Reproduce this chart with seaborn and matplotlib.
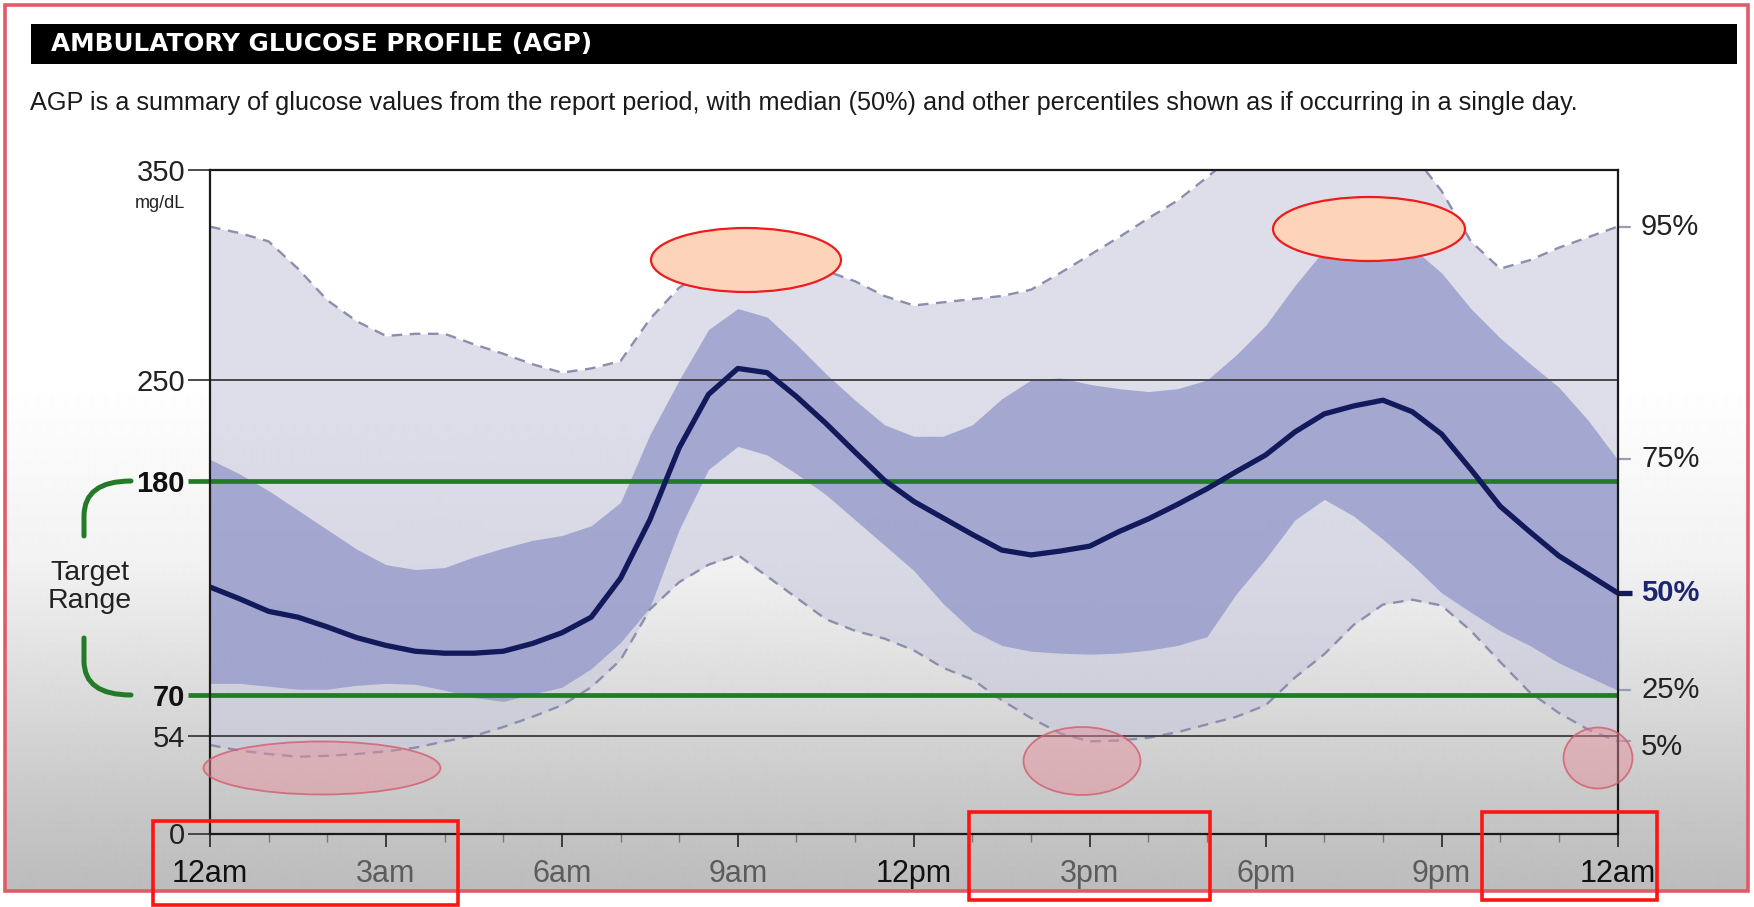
import numpy as np
import matplotlib
matplotlib.use("Agg")
import matplotlib.pyplot as plt
import seaborn as sns
from matplotlib.patches import Ellipse, Rectangle, PathPatch
from matplotlib.path import Path

# ---- glucose percentiles (mg/dL) across one day, every 30 minutes ----
hours = np.arange(0, 24.5, 0.5)
p95 = [323, 320, 316, 303, 288, 278, 271, 272, 272, 267, 262.5, 257.5, 253.5, 255.5, 259, 279,
       294, 302, 305, 305, 304, 302, 297, 290, 285.5, 287, 288.5, 290, 293, 301, 309.5, 318,
       327, 335.5, 346.5, 358, 368, 375, 378, 376, 368, 358, 340, 316, 303, 307, 313, 318, 323]
p75 = [195, 185, 175, 165, 155, 145, 137, 134.5, 135.5, 141, 145.5, 149.5, 152, 157, 169, 212,
       250, 274, 284, 280, 267, 253, 236, 219, 211, 211, 219, 237, 250, 251, 247, 244,
       242, 244, 250, 262, 276, 295, 312, 318, 319, 313, 301, 284, 270, 258, 245, 222, 195]
p50 = [125.5, 119.5, 113, 110, 105, 99.5, 95.5, 92.5, 91.5, 91.5, 92.5, 96.5, 102, 110, 130, 160,
       203, 240, 255.5, 253.5, 238.5, 220, 200, 180.5, 169.5, 161, 152.5, 144.5, 142, 144, 146.5, 154,
       160.5, 168, 176, 186.5, 198, 214, 226.5, 232, 236, 228, 212.5, 188, 167, 154, 141.5, 132, 122.5]
p25 = [76, 76, 74.5, 73, 73, 75, 76, 75.5, 72.5, 69, 67.5, 70.5, 74, 83.5, 97, 115,
       155, 188, 204, 198, 185, 173, 160, 147, 134, 117, 103, 95.5, 92.5, 91.5, 91, 91.5,
       93, 95.5, 100, 122, 140, 160, 170.5, 162, 150, 137, 122.5, 112.5, 103, 95.5, 86.5, 79.5, 72.5]
p05 = [49, 46, 44, 42.5, 43, 44, 45.5, 47.5, 51, 54, 57.5, 61.5, 66, 74, 88, 114,
       128, 137, 142, 131, 120, 109, 103, 99, 93, 84, 78, 68, 61, 55, 51, 51.5,
       53, 55.5, 58.5, 61.5, 66, 79, 91, 106, 116.5, 119, 116, 103, 87, 71.5, 63, 56.5, 51]

x_ticks = [0, 3, 6, 9, 12, 15, 18, 21, 24]
x_labels = ["12am", "3am", "6am", "9am", "12pm", "3pm", "6pm", "9pm", "12am"]
y_ticks = [0, 54, 70, 180, 250, 350]
y_labels = ["0", "54", "70", "180", "250", "350"]
target_low, target_high = 70, 180

# vertical axis of the AGP report is stretched piecewise between its marks
SCALE_V = [0, 54, 70, 180, 250, 350]
SCALE_F = [0, 0.147, 0.2087, 0.5313, 0.6835, 1.0]


def y_forward(v):
    v = np.asarray(v, dtype=float)
    out = np.interp(v, SCALE_V, SCALE_F)
    top = (SCALE_F[-1] - SCALE_F[-2]) / (SCALE_V[-1] - SCALE_V[-2])
    bot = SCALE_F[1] / SCALE_V[1]
    out = np.where(v > SCALE_V[-1], SCALE_F[-1] + (v - SCALE_V[-1]) * top, out)
    out = np.where(v < SCALE_V[0], v * bot, out)
    return out


def y_inverse(f):
    f = np.asarray(f, dtype=float)
    out = np.interp(f, SCALE_F, SCALE_V)
    top = (SCALE_V[-1] - SCALE_V[-2]) / (SCALE_F[-1] - SCALE_F[-2])
    bot = SCALE_V[1] / SCALE_F[1]
    out = np.where(f > SCALE_F[-1], SCALE_V[-1] + (f - SCALE_F[-1]) * top, out)
    out = np.where(f < SCALE_F[0], f * bot, out)
    return out


W, H = 1754, 907
sns.set_theme(style="white")
plt.rcParams["font.family"] = ["Liberation Sans", "DejaVu Sans"]

fig = plt.figure(figsize=(W / 100, H / 100), dpi=100)
fig.patch.set_facecolor("white")


def fx(px):
    return px / W


def fy(py):
    return 1 - py / H


# ---- report panel: shaded backdrop and red outline ----
pl, pr, pt, pb = 5, 1748, 5, 891
bg = fig.add_axes([fx(pl), fy(pb), fx(pr) - fx(pl), fy(pt) - fy(pb)], zorder=-5)
rows = np.arange(pt, pb)
shade = np.interp(rows, [0, 380, 560, 700, 800, 891], [255, 255, 242, 218, 200, 188]) / 255
bg.imshow(shade[:, None] * np.ones((1, 4)), cmap="gray", vmin=0, vmax=1,
          aspect="auto", extent=[0, 1, 0, 1], interpolation="bilinear")
bg.axis("off")
fig.add_artist(Rectangle((fx(pl), fy(pb)), fx(pr) - fx(pl), fy(pt) - fy(pb),
                         transform=fig.transFigure, fill=False, ec="#e25a68", lw=2.6, zorder=30))

# ---- header ----
fig.add_artist(Rectangle((fx(31), fy(64)), fx(1737) - fx(31), fy(24) - fy(64),
                         transform=fig.transFigure, fc="black", ec="none", zorder=1))
fig.text(fx(51), fy(44.5), "AMBULATORY GLUCOSE PROFILE (AGP)", color="white",
         fontsize=17.8, fontweight="bold", family=["DejaVu Sans"], va="center", ha="left", zorder=2)
fig.text(fx(30), fy(103), "AGP is a summary of glucose values from the report period, with median (50%) "
         "and other percentiles shown as if occurring in a single day.",
         color="#1a1a1a", fontsize=18.2, va="center", ha="left")

# ---- main chart ----
ax = fig.add_axes([fx(210), fy(833.5), fx(1617.5) - fx(210), fy(170) - fy(833.5)])
ax.set_facecolor("none")

ax.fill_between(hours, p05, p95, color="#c8c8de", alpha=0.6, lw=0, zorder=1)
ax.fill_between(hours, p25, p75, color="#9297c9", alpha=0.75, lw=0, zorder=2)

dash_kw = dict(color="#8c8eae", lw=1.7, linestyle=(0, (4.5, 3.2)), zorder=3)
sns.lineplot(x=hours, y=p95, ax=ax, **dash_kw)
sns.lineplot(x=hours, y=p05, ax=ax, **dash_kw)
sns.lineplot(x=hours, y=p50, ax=ax, color="#121a5c", lw=3.8, zorder=6,
             solid_capstyle="round", solid_joinstyle="round")

ytrans = ax.get_yaxis_transform()
ax.hlines([250, 54], -0.0156, 1, transform=ytrans, colors="#3c3c3c", lw=1.3,
          clip_on=False, zorder=4)
ax.hlines([0, 350], -0.0156, 0, transform=ytrans, colors="#3c3c3c", lw=1.3,
          clip_on=False, zorder=4)
ax.hlines([target_high, target_low], -0.0156, 1, transform=ytrans, colors="#237a27",
          lw=3.4, clip_on=False, zorder=5)

ax.set_yscale("function", functions=(y_forward, y_inverse))
ax.set_xlim(0, 24)
ax.set_ylim(0, 350)
ax.set_xlabel("")
ax.set_ylabel("")

ax.set_yticks(y_ticks)
ax.set_yticklabels(y_labels)
ax.yaxis.set_minor_locator(matplotlib.ticker.NullLocator())
ax.tick_params(axis="y", length=0, pad=18, labelsize=21, labelcolor="#222222")
for lab in ax.get_yticklabels():
    if lab.get_text() in (str(target_low), str(target_high)):
        lab.set_fontweight("bold")
        lab.set_color("#111111")

ax.set_xticks(x_ticks)
ax.set_xticklabels(x_labels)
ax.set_xticks(np.arange(0, 25, 1), minor=True)
ax.tick_params(axis="x", which="major", bottom=True, length=9.5, width=1.3, color="#333333",
               pad=9, labelsize=22, labelcolor="#5c5c5c")
ax.tick_params(axis="x", which="minor", bottom=True, length=5.5, width=1.0, color="#777777")
for lab in ax.get_xticklabels():
    if lab.get_text() in ("12am", "12pm"):
        lab.set_color("#111111")

for side in ["left", "right", "top", "bottom"]:
    ax.spines[side].set_visible(True)
    ax.spines[side].set_color("#1a1a1a")
    ax.spines[side].set_linewidth(1.6)
    ax.spines[side].set_zorder(7)

# percentile labels on the right edge
ends = [(p95[-1], "95%", 0), (p75[-1], "75%", 0), (p50[-1], "50%", 0),
        (p25[-1], "25%", 0), (p05[-1], "5%", -4)]
for val, lab, dy in ends:
    if lab == "50%":
        ax.plot([1.0, 1.01], [val, val], transform=ytrans, color="#121a5c", lw=3.8,
                clip_on=False, zorder=6, solid_capstyle="butt")
        ax.annotate(lab, (1.0167, val), xycoords=ytrans, va="center", ha="left",
                    fontsize=21, fontweight="bold", color="#1c2670", annotation_clip=False)
    else:
        ax.plot([1.0, 1.009], [val, val], transform=ytrans, color="#9a9cb5", lw=1.6,
                clip_on=False, zorder=6)
        ax.annotate(lab, (1.0167, val), xycoords=ytrans, xytext=(0, dy),
                    textcoords="offset points", va="center", ha="left",
                    fontsize=21, color="#222222", annotation_clip=False)

fig.text(fx(185), fy(203), "mg/dL", ha="right", va="center", fontsize=13, color="#222222")

# target range bracket
fig.text(fx(90), fy(587), "Target\nRange", ha="center", va="center", fontsize=20.5,
         linespacing=1.15, color="#222222")
green = "#237a27"
upper = Path([(fx(131), fy(481)), (fx(84), fy(481)), (fx(84), fy(516)), (fx(84), fy(536))],
             [Path.MOVETO, Path.CURVE3, Path.CURVE3, Path.LINETO])
lower = Path([(fx(84), fy(638)), (fx(84), fy(661)), (fx(84), fy(695)), (fx(131), fy(695))],
             [Path.MOVETO, Path.LINETO, Path.CURVE3, Path.CURVE3])
for p in (upper, lower):
    fig.add_artist(PathPatch(p, transform=fig.transFigure, fill=False, ec=green, lw=3.6,
                             capstyle="round", zorder=5))

# ---- highlight marks ----
for cx, cy, w, h in [(746, 260, 190, 64), (1369, 229, 192, 64)]:
    fig.add_artist(Ellipse((fx(cx), fy(cy)), w / W, h / H, transform=fig.transFigure,
                           fc="#fdd3ba", ec="#ee1c1c", lw=1.6, zorder=20))
for cx, cy, w, h in [(322, 768, 237, 53), (1082, 761, 117, 68), (1598, 758, 69, 61)]:
    fig.add_artist(Ellipse((fx(cx), fy(cy)), w / W, h / H, transform=fig.transFigure,
                           fc=(0.91, 0.55, 0.6, 0.45), ec=(0.82, 0.36, 0.43, 0.8), lw=1.3, zorder=20))
for x0, y0, x1, y1 in [(153, 821, 458, 905), (969, 812, 1210, 900), (1482, 812, 1657, 900)]:
    fig.add_artist(Rectangle((fx(x0), fy(y1)), fx(x1) - fx(x0), fy(y0) - fy(y1),
                             transform=fig.transFigure, fill=False, ec="#ff1414", lw=2.6, zorder=31))

fig.savefig("out.png", dpi=100)
